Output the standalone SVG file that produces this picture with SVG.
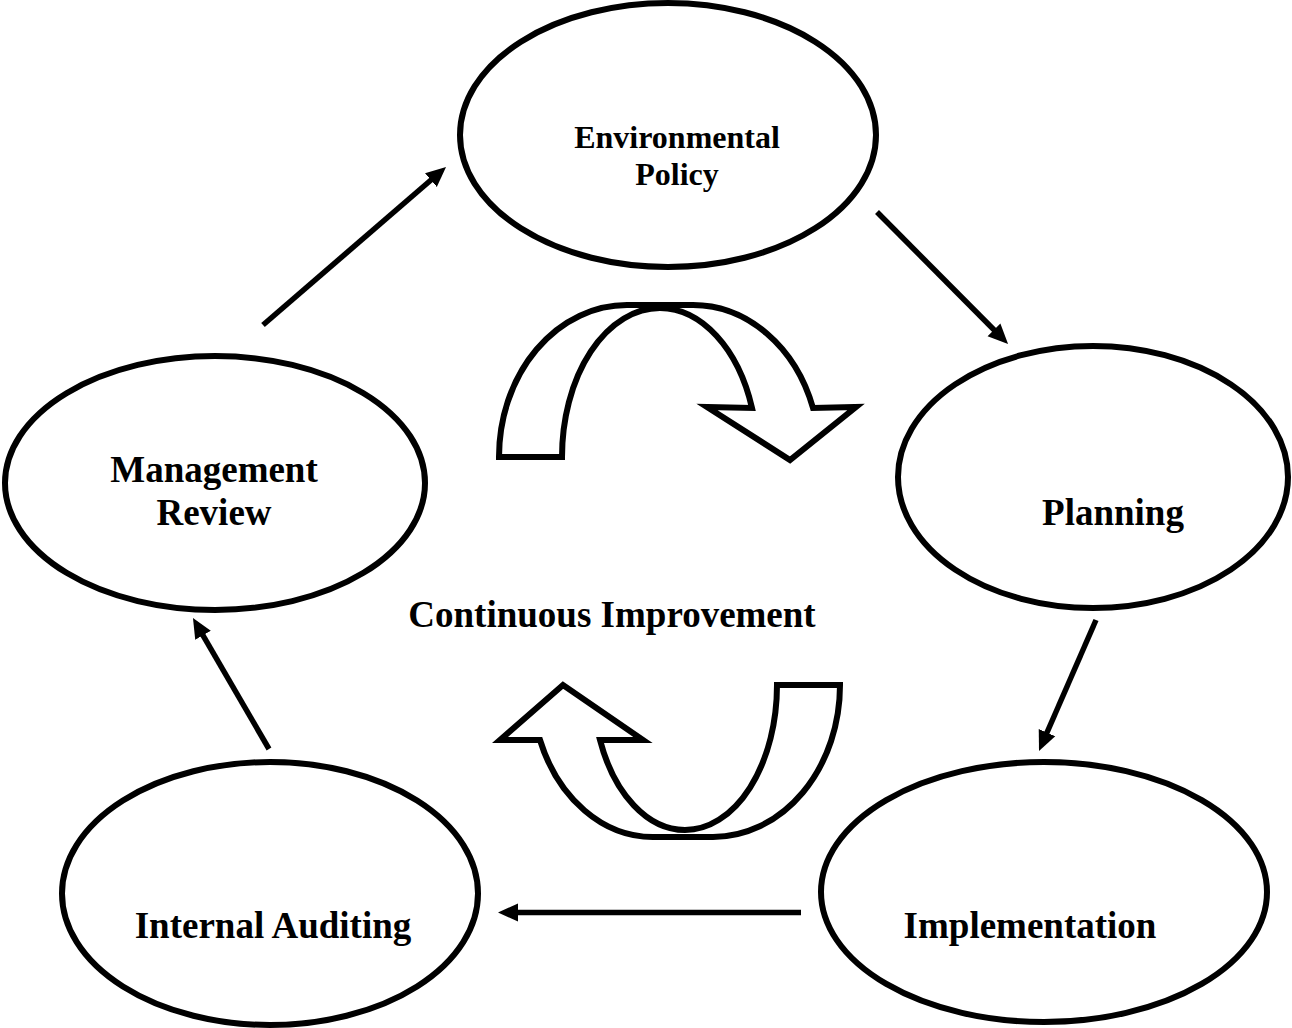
<svg xmlns="http://www.w3.org/2000/svg" width="1292" height="1028" viewBox="0 0 1292 1028">
<defs>
<style>
.node{fill:#fff;stroke:#000;stroke-width:6}
.lbl{font-family:"Liberation Serif","Times New Roman",serif;font-weight:bold;font-size:37px;fill:#000;text-anchor:middle}
.small{font-size:32px}
.conn{stroke:#000;stroke-width:5.5;fill:none;marker-end:url(#ah)}
.curve{fill:#fff;stroke:#000;stroke-width:6;stroke-linejoin:miter}
</style>
<marker id="ah" markerUnits="userSpaceOnUse" markerWidth="20" markerHeight="20" viewBox="0 0 20 20" refX="7" refY="10" orient="auto">
<path d="M0,1 L20,10 L0,19 Z" fill="#000"/>
</marker>
</defs>
<rect width="1292" height="1028" fill="#fff"/>
<g id="connectors">
<line class="conn" x1="263" y1="325" x2="436.2" y2="175.5"/>
<line class="conn" x1="877" y1="212" x2="998.9" y2="334.8"/>
<line class="conn" x1="1096" y1="620" x2="1044.2" y2="739"/>
<line class="conn" x1="801" y1="912.5" x2="511" y2="912.5"/>
<line class="conn" x1="269" y1="749" x2="199.5" y2="629.3"/>
</g>
<g id="env-policy">
<ellipse class="node" cx="668" cy="135" rx="208" ry="132"/>
<text class="lbl small" x="677" y="148">Environmental</text>
<text class="lbl small" x="677" y="185">Policy</text>
</g>
<g id="planning">
<ellipse class="node" cx="1093" cy="477" rx="195" ry="131"/>
<text class="lbl" x="1113" y="525">Planning</text>
</g>
<g id="implementation">
<ellipse class="node" cx="1044" cy="892" rx="223" ry="130"/>
<text class="lbl" x="1030" y="938">Implementation</text>
</g>
<g id="internal-auditing">
<ellipse class="node" cx="270" cy="893.5" rx="208" ry="131.5"/>
<text class="lbl" x="273" y="938">Internal Auditing</text>
</g>
<g id="management-review">
<ellipse class="node" cx="215" cy="483" rx="210" ry="127"/>
<text class="lbl" x="214" y="482">Management</text>
<text class="lbl" x="214" y="525">Review</text>
</g>
<g id="continuous-improvement">
<path class="curve" d="M499,457 A128,152 0 0 1 627,305 L693,305 A127,152 0 0 1 813,408 L856,407 L790,460 L707,407 L752,408 A98,149 0 0 0 660,308 A98,149 0 0 0 562,457 Z"/>
<path class="curve" d="M840,685 A127,152 0 0 1 713,837 L653,837 A121,152 0 0 1 540,740 L500,740 L563,685 L643,740 L600,740 A92,145 0 0 0 685,830 A92,145 0 0 0 777,685 Z"/>
<text class="lbl" x="612" y="627">Continuous Improvement</text>
</g>
</svg>
